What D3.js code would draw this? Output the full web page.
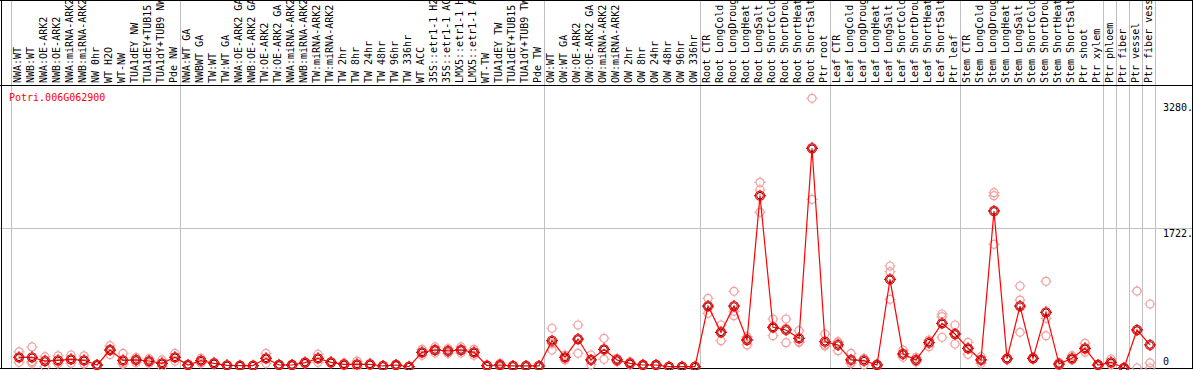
<!doctype html>
<html lang="en">
  <head>
    <meta charset="UTF-8" />
    <title>Potri.006G062900 expression</title>
    <script src="https://d3js.org/d3.v7.min.js"></script>
    <style>
      body {
        margin: 0;
        padding: 0;
        background: #fff;
        overflow: hidden;
      }
      text {
        font-family: 'DejaVu Sans Mono', 'Liberation Mono', monospace;
        font-size: 10px;
      }
      .col-label {
        fill: #000;
      }
      .title {
        fill: #f00;
      }
    </style>
  </head>
  <body>
    <div id="chart"></div>

    <script>
      // sample labels, in plotting order
      const samples = [
        'NWA:WT', 'NWB:WT', 'NWA:OE-ARK2', 'NWB:OE-ARK2', 'NWA:miRNA-ARK2', 'NWB:miRNA-ARK2',
        'NW 0hr', 'WT H2O', 'WT-NW', 'TUA1dEY NW', 'TUA1dEY+TUB15 NW', 'TUA1dY+TUB9 NW', 'Pde NW',
        'NWA:WT GA', 'NWBWT GA', 'TW:WT', 'TW:WT GA', 'NWA:OE-ARK2 GA', 'NWB:OE-ARK2 GA',
        'TW:OE-ARK2', 'TW:OE-ARK2 GA', 'NWA:miRNA-ARK2 GA', 'NWB:miRNA-ARK2 GA', 'TW:miRNA-ARK2',
        'TW:miRNA-ARK2 GA', 'TW 2hr', 'TW 8hr', 'TW 24hr', 'TW 48hr', 'TW 96hr', 'TW 336hr',
        'WT ACC', '35S::etr1-1 H2O', '35S::etr1-1 ACC', 'LMX5::etr1-1 H2O', 'LMX5::etr1-1 ACC',
        'WT-TW', 'TUA1dEY TW', 'TUA1dEY+TUB15 TW', 'TUA1dY+TUB9 TW', 'Pde TW',
        'OW:WT', 'OW:WT GA', 'OW:OE-ARK2', 'OW:OE-ARK2 GA', 'OW:miRNA-ARK2', 'OW:miRNA-ARK2 GA',
        'OW 2hr', 'OW 8hr', 'OW 24hr', 'OW 48hr', 'OW 96hr', 'OW 336hr',
        'Root CTR', 'Root LongCold', 'Root LongDrought', 'Root LongHeat', 'Root LongSalt',
        'Root ShortCold', 'Root ShortDrought', 'Root ShortHeat', 'Root ShortSalt', 'Ptr root',
        'Leaf CTR', 'Leaf LongCold', 'Leaf LongDrought', 'Leaf LongHeat', 'Leaf LongSalt',
        'Leaf ShortCold', 'Leaf ShortDrought', 'Leaf ShortHeat', 'Leaf ShortSalt', 'Ptr leaf',
        'Stem CTR', 'Stem LongCold', 'Stem LongDrought', 'Stem LongHeat', 'Stem LongSalt',
        'Stem ShortCold', 'Stem ShortDrought', 'Stem ShortHeat', 'Stem ShortSalt', 'Ptr shoot',
        'Ptr xylem', 'Ptr phloem', 'Ptr fiber', 'Ptr vessel', 'Ptr fiber vessel',
      ]

      // number of samples in each block (separated by grey lines)
      const groupSizes = [13, 28, 12, 10, 10, 11, 1, 1, 1, 1]

      // mean expression per sample
      const means = [
        132, 132, 86, 95, 107, 95, 37, 222, 95, 99, 86, 58, 132,
        37, 90, 58, 33, 29, 29, 119, 37, 37, 66, 119, 70, 45, 45, 45, 25, 37, 16,
        193, 222, 210, 222, 193, 29, 37, 25, 25, 25,
        337, 132, 357, 99, 230, 99, 58, 37, 37, 16, 16, 16,
        764, 440, 764, 345, 2125, 502, 469, 366, 2709, 324,
        284, 99, 90, 37, 1094, 173, 99, 312, 551, 419,
        243, 99, 1936, 115, 764, 119, 687, 49, 119, 243, 37,
        70, 0, 469, 284,
      ]

      // replicate values per sample
      const replicates = [
        [200, 130, 70], [260, 80, 60], [140, 100, 18], [150, 80, 55], [160, 105, 58], [150, 85, 50],
        [40, 35, 36], [275, 225, 165], [180, 60, 45], [130, 100, 65], [115, 85, 58], [100, 55, 18],
        [180, 130, 85],
        [45, 37, 29], [120, 90, 60], [70, 58, 46], [40, 33, 26], [35, 29, 23], [35, 29, 23],
        [180, 119, 58], [45, 37, 29], [45, 37, 29], [80, 66, 52], [170, 120, 70], [80, 70, 60],
        [60, 45, 30], [85, 45, 10], [55, 45, 35], [30, 25, 20], [45, 37, 29], [20, 16, 12],
        [230, 193, 156], [260, 222, 184], [240, 210, 180], [260, 222, 184], [230, 193, 156],
        [35, 29, 23], [60, 37, 14], [30, 25, 20], [30, 25, 20], [30, 25, 20],
        [490, 300, 222], [160, 130, 100], [530, 360, 181], [160, 99, 40], [366, 230, 107],
        [120, 99, 78], [75, 58, 41], [45, 37, 29], [45, 37, 29], [20, 16, 12], [20, 16, 12],
        [20, 16, 12],
        [859, 760, 674], [530, 450, 337], [945, 700, 645], [386, 365, 284], [2290, 2195, 1920],
        [604, 502, 398], [604, 490, 312], [460, 324, 315], [3325, 2722, 2080], [419, 284, 270],
        [324, 314, 214], [181, 60, 58], [119, 112, 40], [50, 40, 20], [1258, 1188, 847],
        [222, 165, 132], [132, 90, 75], [345, 330, 263], [666, 633, 379], [530, 430, 296],
        [317, 243, 169], [140, 99, 58], [2162, 2125, 1525], [125, 115, 105], [1011, 838, 440],
        [130, 120, 107], [1069, 613, 398], [70, 50, 27], [152, 110, 95], [304, 230, 195],
        [45, 37, 29],
        [111, 58, 41], [5, 0, 0], [949, 458, 0], [789, 63, 0],
      ]

      // y tick values and their labels
      const yTicks = [0, 1722, 3280]
      const yTickLabels = ['0', '1722.', '3280.']
      const gridValues = [1722]

      const geneId = 'Potri.006G062900'

      const W = 1194
      const H = 370
      const plotLeft = 11
      const plotRight = 1155
      const headerBottom = 85
      const plotBottom = 368
      const maxChars = 14 // header only has room for this many characters

      const svg = d3
        .select('#chart')
        .append('svg')
        .attr('width', W)
        .attr('height', H)

      // scales
      const x = d3
        .scaleBand()
        .domain(d3.range(samples.length))
        .range([plotLeft, plotRight])
        .padding(0)

      const y = d3.scaleLinear().domain([0, 3280]).range([plotBottom, 102])

      const cx = (i) => x(i) + 8

      // horizontal grid
      svg
        .selectAll('.hgrid')
        .data(gridValues)
        .join('line')
        .attr('x1', 0)
        .attr('x2', 1192)
        .attr('y1', (d) => Math.round(y(d)) + 0.5)
        .attr('y2', (d) => Math.round(y(d)) + 0.5)
        .attr('stroke', '#c0c0c0')

      // group separators
      const bounds = [0]
      groupSizes.forEach((n) => bounds.push(bounds[bounds.length - 1] + n))
      svg
        .selectAll('.vgrid')
        .data(bounds)
        .join('line')
        .attr('x1', (d) => (d < samples.length ? x(d) : plotRight) + 0.5)
        .attr('x2', (d) => (d < samples.length ? x(d) : plotRight) + 0.5)
        .attr('y1', 0)
        .attr('y2', plotBottom)
        .attr('stroke', '#c0c0c0')

      // frame
      const frame = svg.append('g').attr('stroke', '#000').attr('stroke-width', 1)
      frame.append('line').attr('x1', 0).attr('x2', 1193).attr('y1', 0.5).attr('y2', 0.5)
      frame.append('line').attr('x1', 0).attr('x2', 1193).attr('y1', headerBottom + 0.5).attr('y2', headerBottom + 0.5)
      frame.append('line').attr('x1', 0).attr('x2', 1193).attr('y1', plotBottom + 0.5).attr('y2', plotBottom + 0.5)
      frame.append('line').attr('x1', 1.5).attr('x2', 1.5).attr('y1', 0).attr('y2', plotBottom + 1)
      frame.append('line').attr('x1', 1192.5).attr('x2', 1192.5).attr('y1', 0).attr('y2', plotBottom + 1)

      // column labels, rotated
      svg
        .selectAll('.col-label')
        .data(samples)
        .join('text')
        .attr('class', 'col-label')
        .attr('transform', (d, i) => `translate(${x(i) + 10}, ${headerBottom - 2}) rotate(-90)`)
        .text((d) => d.slice(0, maxChars))

      // title
      svg.append('text').attr('class', 'title').attr('x', 9).attr('y', 101).text(geneId)

      // y labels at right
      svg
        .selectAll('.ylab')
        .data(yTicks)
        .join('text')
        .attr('x', 1163)
        .attr('y', (d) => y(d))
        .attr('dy', (d) => (d === 0 ? '-0.3em' : '0.85em'))
        .text((d, i) => yTickLabels[i])

      // marker: circle with small notches
      function marker(r) {
        const p = d3.path()
        p.moveTo(r, 0)
        p.arc(0, 0, r, 0, Math.PI * 2)
        ;[[0, -1], [0, 1], [-1, 0], [1, 0]].forEach(([a, b]) => {
          p.moveTo(a * r, b * r)
          p.lineTo(a * (r + 1.5), b * (r + 1.5))
        })
        return p.toString()
      }

      // replicates
      const repPts = []
      replicates.forEach((vals, i) => vals.forEach((v) => repPts.push({ i, v })))
      svg
        .selectAll('.rep')
        .data(repPts)
        .join('path')
        .attr('class', 'rep')
        .attr('transform', (d) => `translate(${cx(d.i)}, ${y(d.v)})`)
        .attr('d', marker(4))
        .attr('fill', 'none')
        .attr('stroke', '#f0a0a0')
        .attr('stroke-width', 1.2)

      // mean line
      const line = d3
        .line()
        .x((d, i) => cx(i))
        .y((d) => y(d))
      svg
        .append('path')
        .datum(means)
        .attr('d', line)
        .attr('fill', 'none')
        .attr('stroke', '#f00')
        .attr('stroke-width', 1.2)

      // mean markers
      const m = svg
        .selectAll('.mean')
        .data(means)
        .join('g')
        .attr('class', 'mean')
        .attr('transform', (d, i) => `translate(${cx(i)}, ${y(d)})`)
      m.append('path')
        .attr('d', marker(4.5))
        .attr('fill', 'none')
        .attr('stroke', '#f00')
        .attr('stroke-width', 1.3)
      m.append('circle')
        .attr('r', 3.3)
        .attr('fill', 'none')
        .attr('stroke', '#700')
        .attr('stroke-width', 1)
    </script>
  </body>
</html>
